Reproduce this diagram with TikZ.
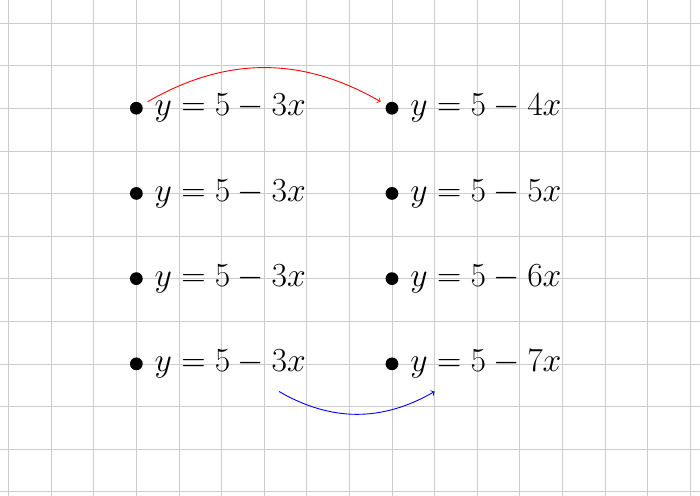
\RequirePackage{fix-cm}
\documentclass[tikz,border=0pt]{standalone}
\usetikzlibrary{positioning}
\begin{document}
\begin{tikzpicture}[dot/.style={circle,fill,inner sep=0pt,minimum size=0.3cm,outer sep=0.155cm},
    eq/.style={inner sep=0pt,font=\fontsize{22.5}{27}\selectfont}]
            \useasboundingbox (-0.2,-11.1) rectangle (16.23,0.54);
            \draw[gray!40] (-0.2,-11.1) grid (16.23,0.54);
            \foreach \n/\c in {1/4,2/5,3/6,4/7} {
              \node[dot] (a\n) at (3,-2*\n) {};
              \node[eq, right=0.12cm of a\n] (la\n) {$y=5-3x$};
              \node[dot] (b\n) at (9,-2*\n) {};
              \node[eq, right=0.12cm of b\n] (lb\n) {$y=5-\c x$};
            }
            \coordinate (p) at (6.35,-8.65);
            \coordinate (q) at (10,-8.65);
            \draw[->, red, semithick] (a1) to[bend left] (b1);
            \draw[->, blue, semithick] (p) to[bend right] (q);
    \end{tikzpicture}
\end{document}
